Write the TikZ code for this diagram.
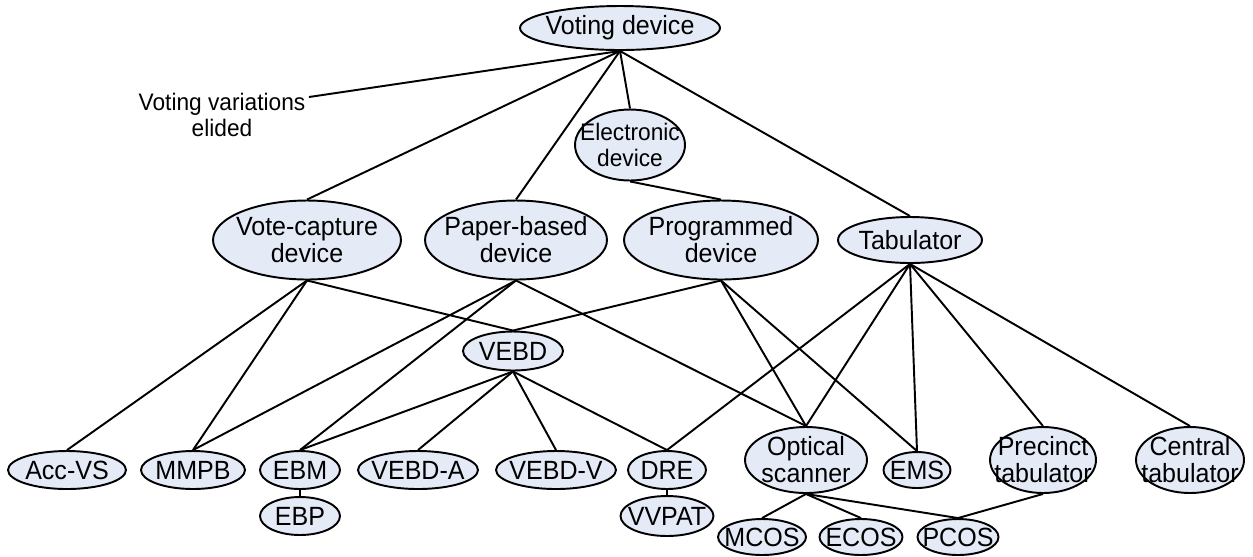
\documentclass[tikz,border=0pt]{standalone}
\usepackage{fontspec}
\setmainfont[FakeStretch=0.95]{Liberation Sans}
\usetikzlibrary{shapes.geometric,backgrounds}
\definecolor{nodefill}{RGB}{228,234,246}
\newcommand{\labelfont}{\fontsize{15}{15.4}\selectfont}
\newcommand{\smalllabelfont}{\fontsize{13.6}{15}\selectfont}
\begin{document}
\begin{tikzpicture}[x=0.02cm, y=-0.02cm,
  ell/.style={ellipse, draw=black, fill=nodefill, line width=1.1pt,
    inner sep=-40pt, align=center, font=\labelfont},
  link/.style={line width=1.1pt, black},
  note/.style={align=center, font=\smalllabelfont}]
\useasboundingbox (0,0) rectangle (1253,556);

% top of the hierarchy
\node[ell, minimum width=4cm, minimum height=0.88cm] (vd) at (620,28) {Voting device};
\node[note] (nt) at (222,115) {Voting variations\\elided};
\coordinate (ntend) at (309,97);
\node[ell, font=\smalllabelfont, minimum width=2.2cm, minimum height=1.42cm] (el) at (630,145) {Electronic\\device};

% second level
\node[ell, minimum width=3.76cm, minimum height=1.58cm] (vc) at (307,240) {Vote-capture\\device};
\node[ell, minimum width=3.64cm, minimum height=1.58cm] (pb) at (516,240) {Paper-based\\device};
\node[ell, minimum width=3.88cm, minimum height=1.58cm] (pr) at (721,240) {Programmed\\device};
\node[ell, minimum width=2.88cm, minimum height=0.92cm] (tb) at (910,240) {Tabulator};

% intermediate
\node[ell, minimum width=2cm, minimum height=0.78cm] (vebd) at (513,351) {VEBD};

% device row
\node[ell, minimum width=2.36cm, minimum height=0.76cm] (acc) at (67,470) {Acc-VS};
\node[ell, minimum width=2.08cm, minimum height=0.76cm] (mmpb) at (193,470) {MMPB};
\node[ell, minimum width=1.6cm, minimum height=0.76cm] (ebm) at (300,470) {EBM};
\node[ell, minimum width=2.4cm, minimum height=0.76cm] (va) at (418,470) {VEBD-A};
\node[ell, minimum width=2.4cm, minimum height=0.76cm] (vv) at (556,470) {VEBD-V};
\node[ell, minimum width=1.56cm, minimum height=0.76cm] (dre) at (667,470) {DRE};
\node[ell, minimum width=2.44cm, minimum height=1.32cm] (os) at (806,460) {Optical\\scanner};
\node[ell, minimum width=1.34cm, minimum height=0.72cm] (ems) at (917,470) {EMS};
\node[ell, minimum width=2.12cm, minimum height=1.32cm] (pt) at (1043,460) {Precinct\\tabulator};
\node[ell, minimum width=2.16cm, minimum height=1.32cm] (ct) at (1190,460) {Central\\tabulator};

% lowest row
\node[ell, minimum width=1.6cm, minimum height=0.76cm] (ebp) at (300,516) {EBP};
\node[ell, minimum width=1.86cm, minimum height=0.8cm] (vvpat) at (667,516) {VVPAT};
\node[ell, minimum width=1.76cm, minimum height=0.72cm] (mcos) at (762,537) {MCOS};
\node[ell, minimum width=1.66cm, minimum height=0.72cm] (ecos) at (861,537) {ECOS};
\node[ell, minimum width=1.62cm, minimum height=0.72cm] (pcos) at (958,537) {PCOS};

% connectors, drawn behind the nodes
\begin{scope}[on background layer]
\draw[link] (ntend) -- (vd.south);
\draw[link] (vd.south) -- (vc.north);
\draw[link] (vd.south) -- (pb.north);
\draw[link] (vd.south) -- (el.north);
\draw[link] (vd.south) -- (tb.north);
\draw[link] (el.south) -- (pr.north);

\draw[link] (vc.south) -- (acc.north);
\draw[link] (vc.south) -- (mmpb.north);
\draw[link] (vc.south) -- (vebd.north);
\draw[link] (pb.south) -- (mmpb.north);
\draw[link] (pb.south) -- (ebm.north);
\draw[link] (pb.south) -- (os.north);
\draw[link] (pr.south) -- (vebd.north);
\draw[link] (pr.south) -- (os.north);
\draw[link] (pr.south) -- (ems.north);
\draw[link] (tb.south) -- (dre.north);
\draw[link] (tb.south) -- (os.north);
\draw[link] (tb.south) -- (ems.north);
\draw[link] (tb.south) -- (pt.north);
\draw[link] (tb.south) -- (ct.north);

\draw[link] (vebd.south) -- (ebm.north);
\draw[link] (vebd.south) -- (va.north);
\draw[link] (vebd.south) -- (vv.north);
\draw[link] (vebd.south) -- (dre.north);

\draw[link] (ebm.south) -- (ebp.north);
\draw[link] (dre.south) -- (vvpat.north);
\draw[link] (os.south) -- (mcos.north);
\draw[link] (os.south) -- (ecos.north);
\draw[link] (os.south) -- (pcos.north);
\draw[link] (pt.south) -- (pcos.north);
\end{scope}
\end{tikzpicture}
\end{document}
